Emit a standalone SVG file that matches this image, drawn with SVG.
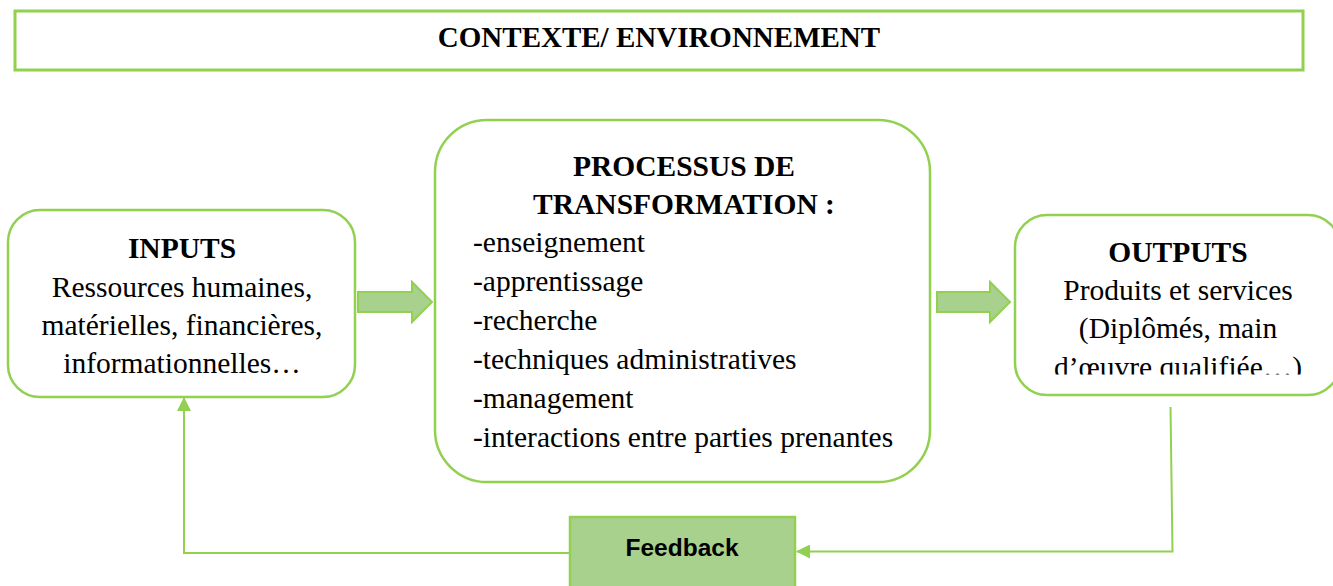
<svg xmlns="http://www.w3.org/2000/svg" width="1333" height="586" viewBox="0 0 1333 586">
  <defs>
    <style>
      .box { fill: #ffffff; stroke: #92D050; stroke-width: 2.5; }
      .serif { font-family: "Liberation Serif", "Times New Roman", serif; fill: #000000; }
      .head { font-weight: bold; font-size: 29.5px; }
      .body { font-size: 29.5px; }
      .block { fill: #A9D18E; stroke: #92D050; stroke-width: 2; }
      .link { fill: none; stroke: #92D050; stroke-width: 2; }
      .fb-label { font-family: "Liberation Sans", Arial, sans-serif; font-weight: bold; font-size: 24.5px; fill: #000000; }
    </style>
    <marker id="tip" viewBox="0 0 14 14" refX="13" refY="7" markerWidth="14" markerHeight="14" markerUnits="userSpaceOnUse" orient="auto">
      <path d="M0,0 L14,7 L0,14 Z" fill="#92D050"/>
    </marker>
    <clipPath id="outClip">
      <rect x="1015" y="200" width="330" height="174.5"/>
    </clipPath>
  </defs>

  <!-- context banner -->
  <g id="contexte">
    <rect x="15" y="11" width="1288" height="59" fill="#ffffff" stroke="#92D050" stroke-width="3"/>
    <text class="serif" x="659" y="47" font-size="29" font-weight="bold" text-anchor="middle">CONTEXTE/ ENVIRONNEMENT</text>
  </g>

  <!-- inputs -->
  <g id="inputs">
    <rect class="box" x="8" y="210" width="347" height="187" rx="32" ry="32"/>
    <text class="serif head" x="182" y="258" text-anchor="middle">INPUTS</text>
    <text class="serif body" x="182" y="297" text-anchor="middle">Ressources humaines,</text>
    <text class="serif body" x="182" y="335" text-anchor="middle">matérielles, financières,</text>
    <text class="serif body" x="182" y="373" text-anchor="middle">informationnelles…</text>
  </g>

  <!-- transformation process -->
  <g id="processus">
    <rect class="box" x="435" y="120" width="495" height="362" rx="52" ry="52"/>
    <text class="serif head" x="684" y="176" text-anchor="middle">PROCESSUS DE</text>
    <text class="serif head" x="684" y="214" text-anchor="middle">TRANSFORMATION :</text>
    <text class="serif body" x="473" y="252">-enseignement</text>
    <text class="serif body" x="473" y="291">-apprentissage</text>
    <text class="serif body" x="473" y="330">-recherche</text>
    <text class="serif body" x="473" y="369">-techniques administratives</text>
    <text class="serif body" x="473" y="408">-management</text>
    <text class="serif body" x="473" y="447">-interactions entre parties prenantes</text>
  </g>

  <!-- outputs -->
  <g id="outputs">
    <rect class="box" x="1015" y="215" width="325" height="180" rx="32" ry="32"/>
    <text class="serif head" x="1178" y="262" text-anchor="middle">OUTPUTS</text>
    <text class="serif body" x="1178" y="300" text-anchor="middle">Produits et services</text>
    <text class="serif body" x="1178" y="338" text-anchor="middle">(Diplômés, main</text>
    <text class="serif body" x="1178" y="377" text-anchor="middle" clip-path="url(#outClip)">d’œuvre qualifiée…)</text>
  </g>

  <!-- feedback -->
  <g id="feedback">
    <rect x="570" y="517" width="225" height="80" fill="#A9D18E" stroke="#92D050" stroke-width="2.5"/>
    <text class="fb-label" x="682" y="556" text-anchor="middle">Feedback</text>
  </g>

  <!-- connectors -->
  <g id="connectors">
    <path class="block" d="M358,292 L412,292 L412,282 L432,302 L412,322 L412,312 L358,312 Z"/>
    <path class="block" d="M937,292 L990,292 L990,282 L1010,302 L990,322 L990,312 L937,312 Z"/>
    <path class="link" stroke-width="1.5" d="M1170.5,407 L1172.5,551.5 L797,551.5" marker-end="url(#tip)"/>
    <path class="link" stroke-width="1.5" d="M570,553 L184,553 L184,398" marker-end="url(#tip)"/>
  </g>
</svg>
